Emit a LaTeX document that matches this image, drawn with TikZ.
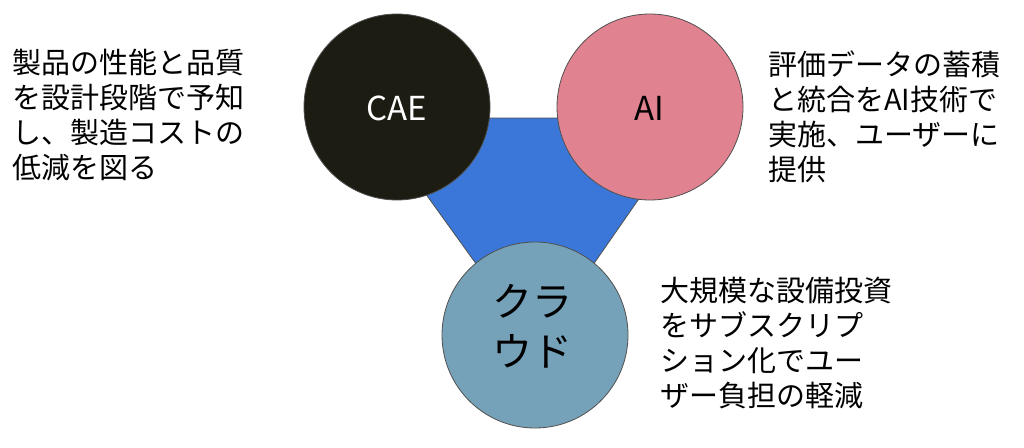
\documentclass[tikz,border=0pt]{standalone}
\usepackage{fontspec}
\setmainfont{Noto Sans CJK JP}
\definecolor{triblue}{HTML}{3A77D8}
\definecolor{caeblack}{HTML}{1C1C12}
\definecolor{aipink}{HTML}{E08290}
\definecolor{cloudblue}{HTML}{76A2B9}
\definecolor{edgegray}{HTML}{505050}
\begin{document}
\begin{tikzpicture}[x=1pt,y=-1pt,
  ball/.style={circle,draw=edgegray,line width=0.8pt,minimum size=186pt,inner sep=0pt},
  para/.style={anchor=north west,inner sep=0pt,align=left,font=\fontsize{29}{35}\selectfont}]
\useasboundingbox (0,0) rectangle (1024,447);
\fill[white] (0,0) rectangle (1024,447);
\coordinate (tl) at (371,118);
\coordinate (tr) at (695,118);
\coordinate (tb) at (536,347);
\filldraw[fill=triblue,draw=edgegray,line width=0.8pt] (tl) -- (tr) -- (tb) -- cycle;
\node[ball,fill=caeblack] (cae) at (397,107) {};
\node[ball,fill=aipink] (ai) at (650,107) {};
\node[ball,fill=cloudblue] (cloud) at (535,335) {};
\node[text=white,font=\fontsize{33}{33}\selectfont,inner sep=0pt] (caet) at (397,108.5) {CAE};
\node[text=black,font=\fontsize{33}{33}\selectfont,inner sep=0pt] (ait) at (649,108.5) {AI};
\node[text=black,align=center,font=\fontsize{40}{50}\selectfont,inner sep=0pt] (cloudt) at (532,326) {クラ\\ウド};
\node[para] (lt) at (12,49) {製品の性能と品質\\を設計段階で予知\\し、製造コストの\\低減を図る};
\node[para] (rt) at (768,51) {評価データの蓄積\\と統合をAI技術で\\実施、ユーザーに\\提供};
\node[para] (bt) at (660,277) {大規模な設備投資\\をサブスクリプ\\ション化でユー\\ザー負担の軽減};
\end{tikzpicture}
\end{document}
